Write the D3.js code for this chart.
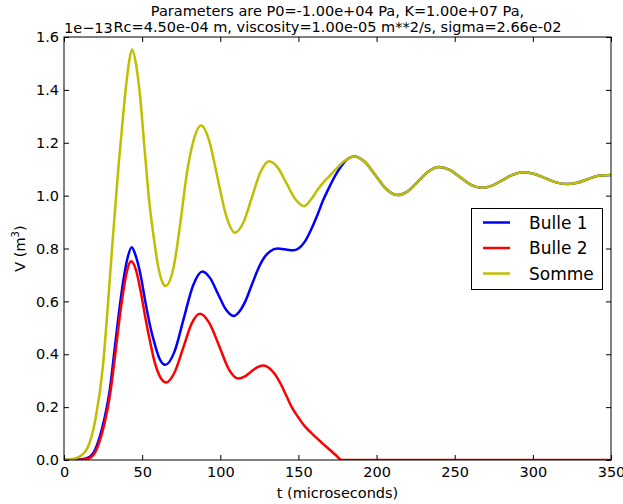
<!DOCTYPE html>
<html>
<head>
<meta charset="utf-8">
<script src="https://cdn.jsdelivr.net/npm/d3@7"></script>
<style>
  html, body { margin: 0; padding: 0; background: #fff; }
  text { font-family: "DejaVu Sans", sans-serif; fill: #000; }
</style>
</head>
<body>
<svg id="chart" width="623" height="504"></svg>
<script>
// ---------- data ----------
const titleLines = [
  "Parameters are P0=-1.00e+04 Pa, K=1.00e+07 Pa,",
  "Rc=4.50e-04 m, viscosity=1.00e-05 m**2/s, sigma=2.66e-02"
];
const xTicks = [0, 50, 100, 150, 200, 250, 300, 350];
const yTicks = [0.0, 0.2, 0.4, 0.6, 0.8, 1.0, 1.2, 1.4, 1.6];
const yOffsetLabel = "1e\u221213";
const seriesNames = ["Bulle 1", "Bulle 2", "Somme"];
const seriesColors = ["#0000ff", "#ff0000", "#bfbf00"];

// Bulle 1 (time in microseconds, volume in 1e-13 m^3)
const tBulle1 = [0, 10, 15, 20, 23, 26, 29.4, 32.6, 35, 38, 40.5, 43.3, 46, 49, 52, 55, 58, 61, 64.8,
  70.7, 76.6, 82.6, 88.5, 93.5, 98.5, 103.5, 108.5, 112, 116, 120, 124, 128, 132, 136.7, 141, 146.7,
  150, 154, 158, 162, 166, 170, 174, 177, 181, 185.6, 192.6, 199.5, 206.5, 213.5, 220.1, 226.8, 233.4,
  240, 246.8, 253.6, 260.4, 267.2, 274, 280.7, 287.5, 294.2, 301, 307.9, 314.8, 321.6, 328.4, 335.1,
  341.9, 350];
const vBulle1 = [0, 0.002, 0.008, 0.04, 0.09, 0.16, 0.27, 0.43, 0.55, 0.68, 0.76, 0.805, 0.77, 0.70, 0.60,
  0.51, 0.44, 0.385, 0.36,
  0.41, 0.535, 0.66, 0.713, 0.688, 0.629, 0.570, 0.545, 0.56, 0.60, 0.66, 0.72, 0.765, 0.79, 0.80, 0.797, 0.793,
  0.80, 0.825, 0.87, 0.925, 0.985, 1.035, 1.08, 1.108, 1.137, 1.148, 1.127, 1.075, 1.023, 1.002, 1.017, 1.055, 1.092,
  1.108, 1.097, 1.069, 1.041, 1.030, 1.038, 1.059, 1.080, 1.088, 1.082, 1.066, 1.050, 1.044, 1.049, 1.062,
  1.075, 1.078];

// Bulle 2
const tBulle2 = [0, 10, 15, 20, 23, 26, 29.4, 32.6, 35, 38, 40.5, 42.9, 46, 49, 52, 55, 58, 61, 65.3,
  70.7, 76.2, 81.6, 87, 93.1, 99.3, 105.4, 111.5, 115.5, 119.5, 123.5, 127.5, 131, 134.5, 138.5, 142.5,
  146, 149.5, 154, 159.5, 165, 170.2, 174, 177.7, 185, 200, 250, 300, 350];
const vBulle2 = [0, 0.001, 0.004, 0.03, 0.075, 0.14, 0.245, 0.39, 0.51, 0.64, 0.72, 0.752, 0.72, 0.64, 0.54,
  0.45, 0.37, 0.32, 0.293,
  0.331, 0.423, 0.515, 0.553, 0.517, 0.431, 0.344, 0.308, 0.315, 0.333, 0.350, 0.357, 0.349, 0.328, 0.290, 0.240,
  0.197, 0.165, 0.128, 0.095, 0.065, 0.038, 0.018, 0, 0, 0, 0, 0, 0];

// Somme
const tSomme = [0, 5, 10, 15, 20, 25, 28, 31.5, 35, 37, 40, 42, 43.6, 46, 48.6, 51.8, 54.5, 57, 60, 62.5, 65,
  70.5, 74.5, 78.5, 82.5, 87.7, 93, 96, 98.5, 104, 109.4, 114.9, 120.3, 125.8, 131.2, 136.9, 142.5, 148.2,
  153.8, 158, 162, 166, 170, 174, 178, 181, 185.6, 192.6, 199.5, 206.5, 213.5, 220.1, 226.8, 233.4,
  240, 246.8, 253.6, 260.4, 267.2, 274, 280.7, 287.5, 294.2, 301, 307.9, 314.8, 321.6, 328.4, 335.1,
  341.9, 350];
const vSomme = [0, 0.003, 0.013, 0.045, 0.15, 0.36, 0.58, 0.86, 1.12, 1.25, 1.43, 1.52, 1.553, 1.50, 1.38, 1.16,
  0.98, 0.86, 0.74, 0.68, 0.658,
  0.74, 0.90, 1.08, 1.20, 1.265, 1.205, 1.13, 1.06, 0.92, 0.860, 0.900, 0.995, 1.090, 1.130, 1.105, 1.045, 0.985,
  0.960, 0.985, 1.02, 1.05, 1.075, 1.10, 1.124, 1.137, 1.148, 1.127, 1.075, 1.023, 1.002, 1.017, 1.055, 1.092,
  1.108, 1.097, 1.069, 1.041, 1.030, 1.038, 1.059, 1.080, 1.088, 1.082, 1.066, 1.050, 1.044, 1.049, 1.062,
  1.075, 1.078];

// ---------- layout ----------
const svg = d3.select("#chart");
const L = 64, R = 611, T = 37, B = 460;
const x = d3.scaleLinear().domain([0, 350]).range([L, R]);
const y = d3.scaleLinear().domain([0, 1.6]).range([B, T]);

svg.append("defs").append("clipPath").attr("id", "clip")
  .append("rect").attr("x", L).attr("y", T).attr("width", R - L).attr("height", B - T);

const series = [
  { t: tBulle1, v: vBulle1 },
  { t: tBulle2, v: vBulle2 },
  { t: tSomme, v: vSomme }
];
const line = d3.line().curve(d3.curveMonotoneX);
const g = svg.append("g").attr("clip-path", "url(#clip)");
series.forEach((s, i) => {
  const pts = s.t.map((t, k) => [x(t), y(s.v[k])]);
  g.append("path").attr("d", line(pts))
    .attr("fill", "none").attr("stroke", seriesColors[i])
    .attr("stroke-width", 2.5).attr("stroke-linejoin", "round");
});

// axes (ticks inward on all four sides)
const fs = "14.5px";
const axB = svg.append("g").attr("transform", `translate(0,${B})`)
  .call(d3.axisBottom(x).tickValues(xTicks).tickFormat(d3.format("d")).tickSize(-5).tickPadding(7));
const axT = svg.append("g").attr("transform", `translate(0,${T})`)
  .call(d3.axisTop(x).tickValues(xTicks).tickFormat("").tickSize(-5));
const axL = svg.append("g").attr("transform", `translate(${L},0)`)
  .call(d3.axisLeft(y).tickValues(yTicks).tickFormat(d3.format(".1f")).tickSize(-5).tickPadding(5));
const axR = svg.append("g").attr("transform", `translate(${R},0)`)
  .call(d3.axisRight(y).tickValues(yTicks).tickFormat("").tickSize(-5));
[axB, axT, axL, axR].forEach(a => {
  a.select(".domain").remove();
  a.selectAll("line").attr("stroke", "#000").attr("stroke-width", 1);
  a.selectAll("text").style("font-family", "DejaVu Sans").style("font-size", fs).attr("fill", "#000");
});
axB.selectAll("text").attr("dy", "0.71em");
svg.append("rect").attr("x", L).attr("y", T).attr("width", R - L).attr("height", B - T)
  .attr("fill", "none").attr("stroke", "#000").attr("stroke-width", 1);

// labels
svg.append("text").attr("x", (L + R) / 2).attr("y", 498).attr("text-anchor", "middle")
  .style("font-size", fs).text("t (microseconds)");
const yl = svg.append("text").attr("transform", `translate(25,${(T + B) / 2}) rotate(-90)`)
  .attr("text-anchor", "middle").style("font-size", fs);
yl.append("tspan").text("V (m");
yl.append("tspan").attr("dy", -6).style("font-size", "10px").text("3");
yl.append("tspan").attr("dy", 6).text(")");

svg.append("text").attr("x", L).attr("y", 33).style("font-size", fs).text(yOffsetLabel);
titleLines.forEach((s, i) => {
  svg.append("text").attr("x", (L + R) / 2).attr("y", 16 + i * 16).attr("text-anchor", "middle")
    .style("font-size", "14.5px").text(s);
});

// legend
const lg = svg.append("g");
lg.append("rect").attr("x", 471.5).attr("y", 208.5).attr("width", 131).attr("height", 81)
  .attr("fill", "#fff").attr("stroke", "#000").attr("stroke-width", 1);
seriesNames.forEach((n, i) => {
  const yy = 222.5 + i * 25.5;
  lg.append("line").attr("x1", 483).attr("x2", 510).attr("y1", yy).attr("y2", yy)
    .attr("stroke", seriesColors[i]).attr("stroke-width", 2.5);
  lg.append("text").attr("x", 529).attr("y", yy).attr("dy", "0.36em")
    .style("font-size", "17px").text(n);
});
</script>
</body>
</html>
